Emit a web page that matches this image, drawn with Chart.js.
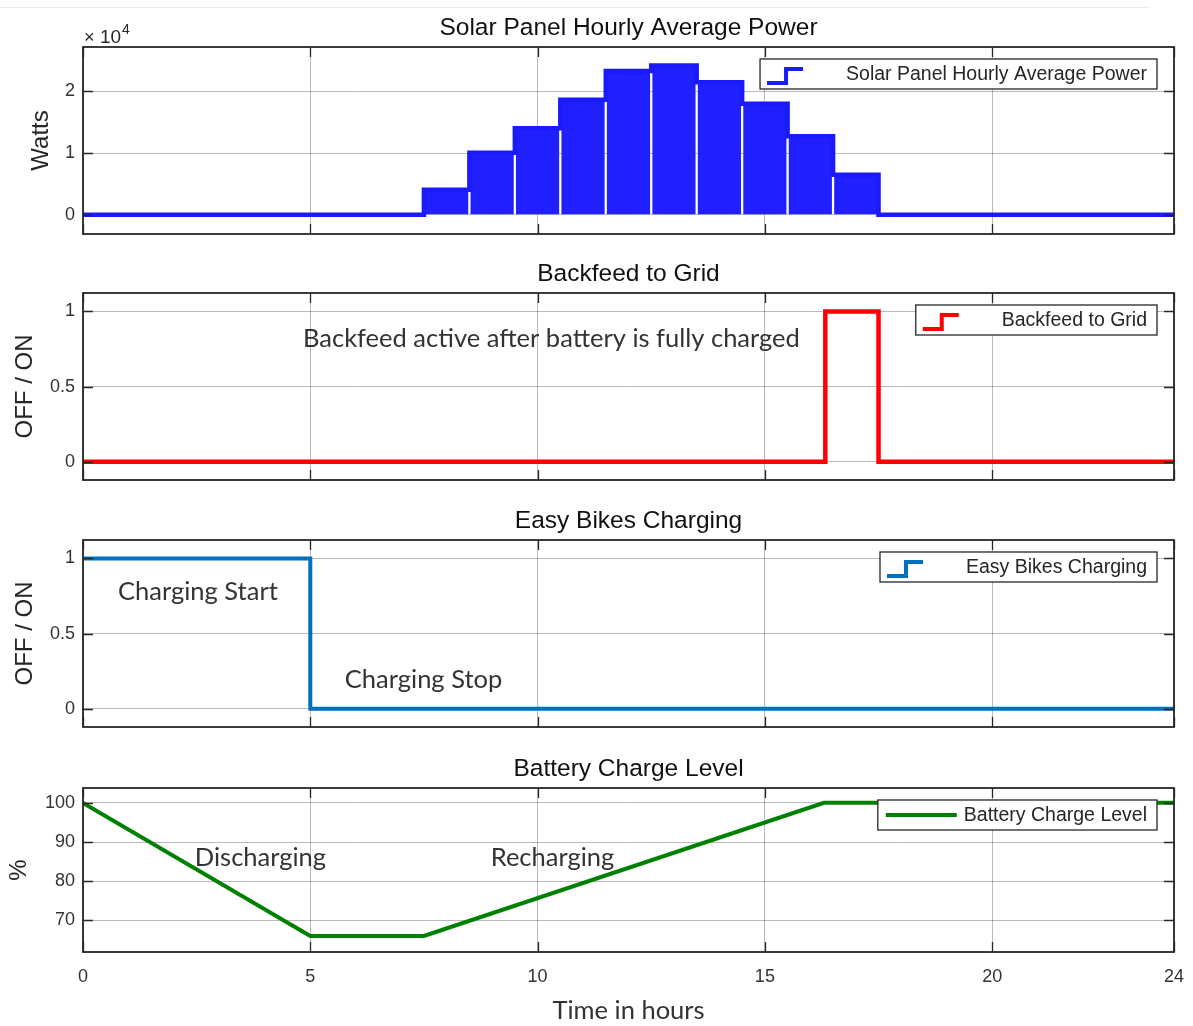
<!DOCTYPE html>
<html>
<head>
<meta charset="utf-8">
<title>Solar panel, backfeed, bike charging and battery level</title>
<script src="https://cdn.jsdelivr.net/npm/chart.js@4.4.1/dist/chart.umd.min.js"></script>
<style>
    body { margin: 0; background: #fff; }
    #page { position: relative; width: 1193px; height: 1026px; overflow: hidden; }
    #page canvas { position: absolute; left: 0; }
    .top-line { position: absolute; left: 0; top: 7px; width: 1150px; height: 1px; background: #ececec; }
</style>
</head>
<body>
<div id="page">
    <div class="top-line"></div>
    <canvas id="solar-chart" width="1193" height="245" style="top:4px"></canvas>
    <canvas id="backfeed-chart" width="1193" height="245" style="top:250px"></canvas>
    <canvas id="bikes-chart" width="1193" height="245" style="top:497px"></canvas>
    <canvas id="battery-chart" width="1193" height="281" style="top:745px"></canvas>
</div>
<script>
// ---- data ----
const hourTicks = [0, 5, 10, 15, 20, 24];

// solar: one value per hour slot, slot starts at the given hour
const solarHourStart = [7.5, 8.5, 9.5, 10.5, 11.5, 12.5, 13.5, 14.5, 15.5, 16.5];
const solarPower = [4050, 10050, 14050, 18650, 23300, 24200, 21500, 18000, 12750, 6500];
const solarTicks = [0, 10000, 20000];

// backfeed to grid (stairs: value holds until next time)
const backfeedTime = [0, 16.33, 17.5, 24];
const backfeedState = [0, 1, 0, 0];

// easy bikes charging (stairs)
const bikesTime = [0, 5, 24];
const bikesState = [1, 0, 0];

const onOffTicks = [0, 0.5, 1];

// battery charge level
const batteryTime = [0, 5, 7.5, 16.3, 24];
const batteryLevel = [100, 66, 66, 100, 100];
const batteryTicks = [70, 80, 90, 100];

const FONT = '"Liberation Sans", Arial, sans-serif';
const NOTE_FONT = 'Lato, "Open Sans", sans-serif';
const INK = '#262626';
const GRID = 'rgba(0,0,0,0.27)';

Chart.defaults.font.family = FONT;
Chart.defaults.color = INK;

// axes box + inward tick marks, like matlab "box on"
const axesBox = {
    id: 'axesBox',
    afterDatasetsDraw(chart) {
        const { ctx, chartArea: a, scales: { x, y } } = chart;
        const len = 10;
        ctx.save();
        ctx.strokeStyle = INK;
        ctx.lineWidth = 1.3;
        ctx.beginPath();
        x.ticks.forEach(t => {
            const px = Math.round(x.getPixelForValue(t.value)) + 0.5;
            ctx.moveTo(px, a.top); ctx.lineTo(px, a.top + len);
            ctx.moveTo(px, a.bottom); ctx.lineTo(px, a.bottom - len);
        });
        y.ticks.forEach(t => {
            const py = Math.round(y.getPixelForValue(t.value)) + 0.5;
            ctx.moveTo(a.left, py); ctx.lineTo(a.left + len, py);
            ctx.moveTo(a.right, py); ctx.lineTo(a.right - len, py);
        });
        ctx.stroke();
        ctx.lineWidth = 1.8;
        ctx.strokeRect(a.left, a.top, a.right - a.left, a.bottom - a.top);
        ctx.restore();
    }
};

// panel title (centred on the axes), text notes in data units, exponent label
const notes = {
    id: 'notes',
    afterDatasetsDraw(chart, args, opts) {
        const { ctx, chartArea: a, scales: { x, y } } = chart;
        ctx.save();
        if (opts.title) {
            ctx.font = '24.5px ' + FONT;
            ctx.fillStyle = '#111';
            ctx.textAlign = 'center';
            ctx.textBaseline = 'middle';
            ctx.fillText(opts.title, (a.left + a.right) / 2, a.top - 19);
        }
        ctx.font = '25.5px ' + NOTE_FONT;
        ctx.fillStyle = '#333';
        ctx.textBaseline = 'middle';
        ctx.textAlign = 'left';
        (opts.items || []).forEach(n => {
            ctx.fillText(n.text, x.getPixelForValue(n.x), y.getPixelForValue(n.y));
        });
        if (opts.exponent) {
            ctx.fillStyle = INK;
            ctx.textBaseline = 'alphabetic';
            ctx.font = '18px ' + FONT;
            ctx.fillText('\u00d7', a.left + 1, a.top - 4);
            ctx.font = '19px ' + FONT;
            ctx.fillText('10', a.left + 17, a.top - 4);
            ctx.font = '14px ' + FONT;
            ctx.fillText(opts.exponent, a.left + 39, a.top - 13);
        }
        ctx.restore();
    }
};

// boxed legend in the upper right corner
const boxLegend = {
    id: 'boxLegend',
    afterDraw(chart, args, opts) {
        if (!opts.label) return;
        const { ctx, chartArea: a } = chart;
        ctx.save();
        ctx.font = '19.5px ' + FONT;
        const tw = ctx.measureText(opts.label).width;
        const w = 86 + tw + 10, h = 30;
        const right = a.right - 17, left = right - w, top = a.top + 12;
        ctx.fillStyle = '#fff';
        ctx.fillRect(left, top, w, h);
        ctx.strokeStyle = INK;
        ctx.lineWidth = 1.3;
        ctx.strokeRect(left, top, w, h);

        ctx.strokeStyle = opts.color;
        ctx.lineWidth = opts.lineWidth;
        ctx.beginPath();
        if (opts.icon === 'stairs') {
            ctx.moveTo(left + 7, top + 24);
            ctx.lineTo(left + 26, top + 24);
            ctx.lineTo(left + 26, top + 10);
            ctx.lineTo(left + 43, top + 10);
        } else {
            ctx.moveTo(left + 8, top + h / 2);
            ctx.lineTo(left + 79, top + h / 2);
        }
        ctx.stroke();

        ctx.fillStyle = INK;
        ctx.textBaseline = 'middle';
        ctx.textAlign = 'right';
        ctx.fillText(opts.label, right - 10, top + h / 2 + 1);
        ctx.restore();
    }
};

function points(xs, ys) {
    return xs.map((v, i) => ({ x: v, y: ys[i] }));
}

function baseOptions(cfg) {
    return {
        responsive: false,
        animation: false,
        events: [],
        layout: { padding: { top: 43, right: 19, bottom: cfg.showX ? 0 : 15, left: 0 } },
        plugins: {
            legend: { display: false },
            tooltip: { enabled: false },
            title: { display: false },
            boxLegend: cfg.legend,
            notes: cfg.notes
        },
        scales: {
            x: {
                type: 'linear',
                min: 0,
                max: 24,
                offset: false,
                afterBuildTicks: s => { s.ticks = hourTicks.map(v => ({ value: v })); },
                afterFit: s => {
                    s.height = cfg.showX ? 74 : 0;
                    s.paddingLeft = 0;
                    s.paddingRight = 0;
                },
                grid: { color: GRID, lineWidth: 1, drawTicks: false, offset: false },
                border: { display: false },
                ticks: {
                    display: !!cfg.showX,
                    padding: 14,
                    font: { size: 18 },
                    color: '#333',
                    maxRotation: 0,
                    autoSkip: false
                },
                title: {
                    display: !!cfg.showX,
                    text: 'Time in hours',
                    color: '#333',
                    font: { size: 25.5, family: NOTE_FONT },
                    padding: { top: 0, bottom: 0 }
                }
            },
            y: {
                min: cfg.yMin,
                max: cfg.yMax,
                afterBuildTicks: s => { s.ticks = cfg.yTicks.map(v => ({ value: v })); },
                afterFit: s => {
                    s.width = 83;
                    s.paddingTop = 0;
                    s.paddingBottom = 0;
                },
                grid: { color: GRID, lineWidth: 1, drawTicks: false },
                border: { display: false },
                ticks: {
                    padding: 8,
                    font: { size: 18 },
                    color: '#333',
                    callback: cfg.tickFormat || (v => v)
                },
                title: {
                    display: true,
                    text: cfg.yTitle,
                    color: INK,
                    font: { size: 24 },
                    padding: { top: cfg.yTitlePad, bottom: 0 }
                }
            }
        }
    };
}

document.addEventListener('DOMContentLoaded', function() {
    // Solar panel hourly average power
    const solarStairs = points(solarHourStart, solarPower);
    solarStairs.unshift({ x: 0, y: 0 });
    solarStairs.push({ x: solarHourStart[solarHourStart.length - 1] + 1, y: 0 });
    solarStairs.push({ x: 24, y: 0 });

    new Chart(document.getElementById('solar-chart'), {
        type: 'bar',
        data: {
            datasets: [{
                type: 'bar',
                data: solarHourStart.map((h, i) => ({ x: h + 0.5, y: solarPower[i] })),
                backgroundColor: '#2020ff',
                borderWidth: 0,
                categoryPercentage: 1,
                barPercentage: 0.95,
                order: 2
            }, {
                type: 'line',
                data: solarStairs,
                stepped: true,
                borderColor: '#1a1aff',
                borderWidth: 4.5,
                pointRadius: 0,
                fill: false,
                order: 1
            }]
        },
        options: baseOptions({
            yTitle: 'Watts',
            yTitlePad: 27,
            yMin: -3100,
            yMax: 27200,
            yTicks: solarTicks,
            tickFormat: v => v / 10000,
            legend: { label: 'Solar Panel Hourly Average Power', icon: 'stairs', color: '#1a1aff', lineWidth: 4 },
            notes: { title: 'Solar Panel Hourly Average Power', items: [], exponent: '4' }
        }),
        plugins: [axesBox, notes, boxLegend]
    });

    // Backfeed to grid
    new Chart(document.getElementById('backfeed-chart'), {
        type: 'line',
        data: {
            datasets: [{
                data: points(backfeedTime, backfeedState),
                stepped: true,
                borderColor: '#ff0000',
                borderWidth: 4.5,
                pointRadius: 0,
                fill: false
            }]
        },
        options: baseOptions({
            yTitle: 'OFF / ON',
            yTitlePad: 11,
            yMin: -0.122,
            yMax: 1.123,
            yTicks: onOffTicks,
            legend: { label: 'Backfeed to Grid', icon: 'stairs', color: '#ff0000', lineWidth: 4 },
            notes: {
                title: 'Backfeed to Grid',
                items: [{ text: 'Backfeed active after battery is fully charged', x: 4.84, y: 0.82 }]
            }
        }),
        plugins: [axesBox, notes, boxLegend]
    });

    // Easy bikes charging
    new Chart(document.getElementById('bikes-chart'), {
        type: 'line',
        data: {
            datasets: [{
                data: points(bikesTime, bikesState),
                stepped: true,
                borderColor: '#0072bd',
                borderWidth: 4,
                pointRadius: 0,
                fill: false
            }]
        },
        options: baseOptions({
            yTitle: 'OFF / ON',
            yTitlePad: 11,
            yMin: -0.122,
            yMax: 1.123,
            yTicks: onOffTicks,
            legend: { label: 'Easy Bikes Charging', icon: 'stairs', color: '#0072bd', lineWidth: 4 },
            notes: {
                title: 'Easy Bikes Charging',
                items: [
                    { text: 'Charging Start', x: 0.77, y: 0.78 },
                    { text: 'Charging Stop', x: 5.76, y: 0.19 }
                ]
            }
        }),
        plugins: [axesBox, notes, boxLegend]
    });

    // Battery charge level
    new Chart(document.getElementById('battery-chart'), {
        type: 'line',
        data: {
            datasets: [{
                data: points(batteryTime, batteryLevel),
                borderColor: '#008000',
                borderWidth: 4,
                pointRadius: 0,
                fill: false,
                tension: 0
            }]
        },
        options: baseOptions({
            showX: true,
            yTitle: '%',
            yTitlePad: 5,
            yMin: 61.9,
            yMax: 103.8,
            yTicks: batteryTicks,
            legend: { label: 'Battery Charge Level', icon: 'line', color: '#008000', lineWidth: 4 },
            notes: {
                title: 'Battery Charge Level',
                items: [
                    { text: 'Discharging', x: 2.46, y: 86 },
                    { text: 'Recharging', x: 8.97, y: 86 }
                ]
            }
        }),
        plugins: [axesBox, notes, boxLegend]
    });
});
</script>
</body>
</html>
